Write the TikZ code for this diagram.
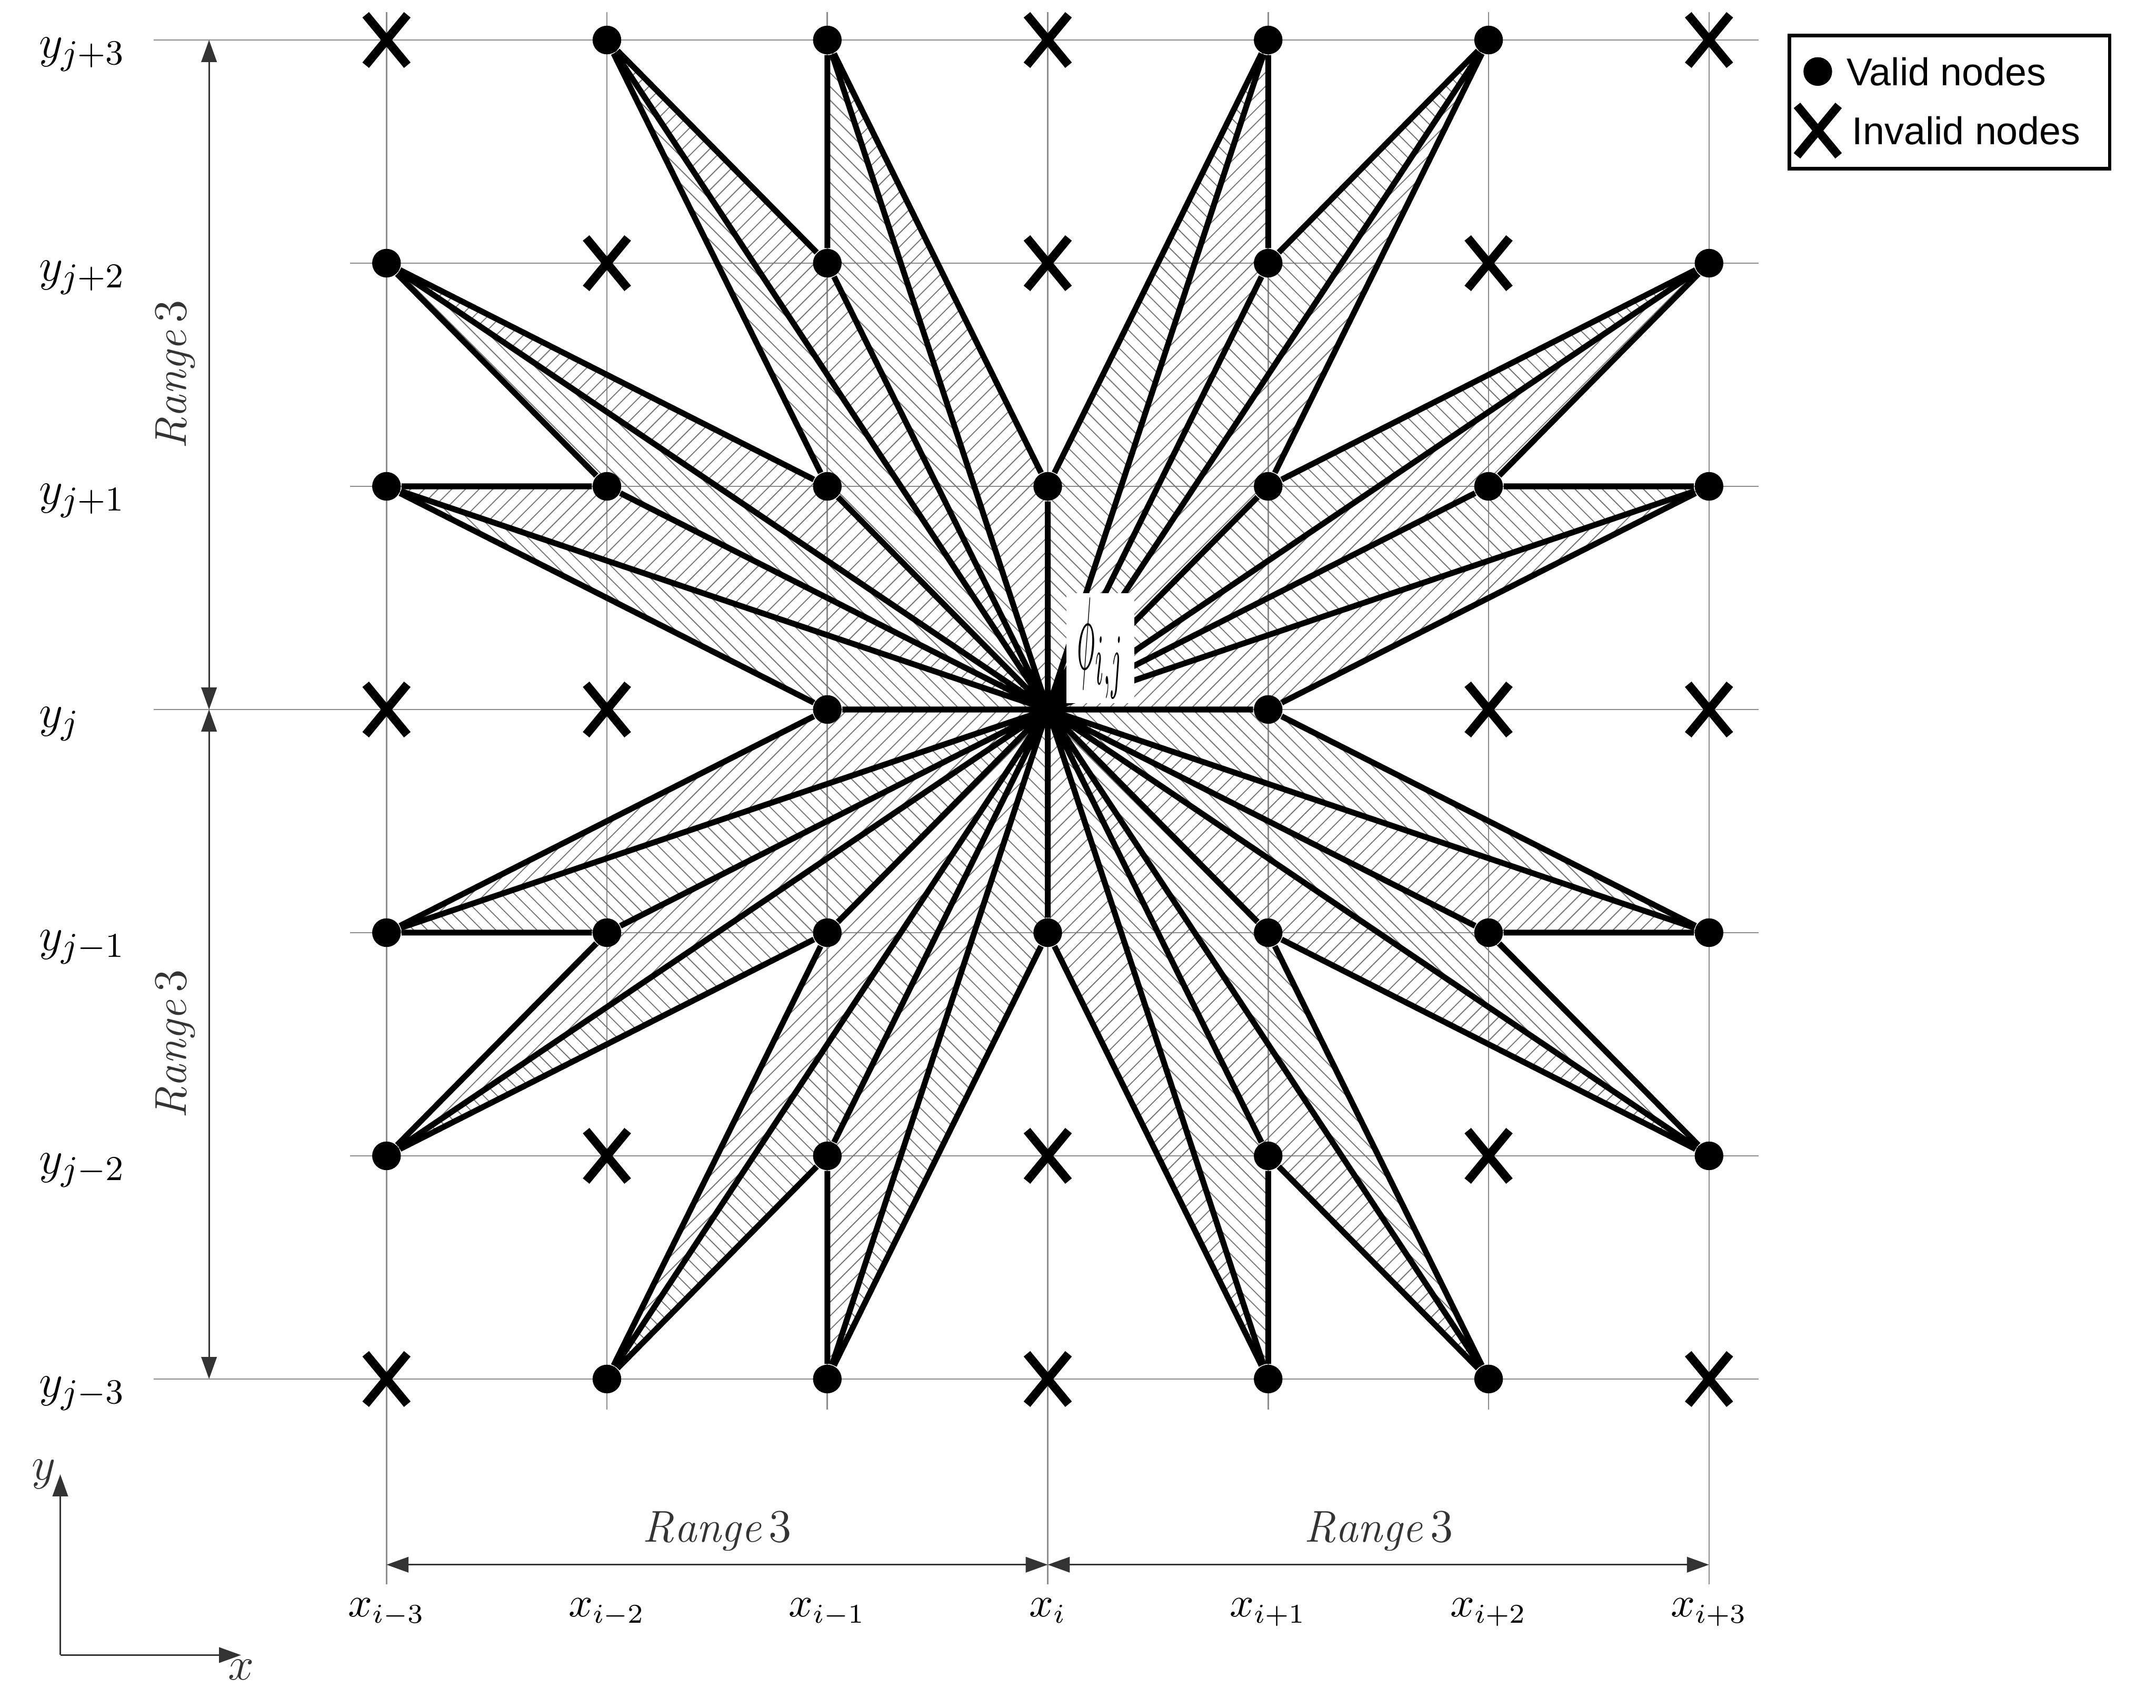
\documentclass[tikz,border=0pt]{standalone}
\usepackage{fontspec}
\newfontfamily\legendfont{Liberation Sans}
\usepackage{graphicx}
\usetikzlibrary{positioning, arrows.meta, calc, backgrounds, patterns.meta, shapes.misc}

\begin{document}
\begin{tikzpicture}[
  valid/.style={circle, fill=black, minimum size=0.26cm, inner sep=0pt},
  invalid/.style={cross out, draw=black, line width=2.2pt,
    minimum width=0.30cm, minimum height=0.38cm, inner sep=0pt},
  gridln/.style={black!45, line width=0.35pt},
  spoke/.style={line width=1.5pt},
  hatchNE/.style={pattern={Lines[angle=45, distance=2.5pt, line width=0.25pt]},
    pattern color=black!55},
  hatchNW/.style={pattern={Lines[angle=-45, distance=2.5pt, line width=0.25pt]},
    pattern color=black!55},
  dimarr/.style={{Triangle[length=2mm, width=1.4mm]}-{Triangle[length=2mm, width=1.4mm]},
    line width=0.4pt, black!80},
  axarr/.style={-{Triangle[length=2mm, width=1.4mm]}, line width=0.4pt, black!80},
  rowlbl/.style={anchor=base west, font=\fontsize{13}{15}\selectfont, inner sep=0pt},
  collbl/.style={anchor=base, font=\fontsize{10.5}{13}\selectfont, inner sep=0pt},
  rangelbl/.style={font=\fontsize{11.5}{13}\selectfont},
  leglbl/.style={font=\legendfont\fontsize{10}{12}\selectfont},
  philbl/.style={fill=white, minimum width=0.62cm, minimum height=1cm, inner sep=0pt},
]

\useasboundingbox (-9.507,-9.058) rectangle (10.056,6.438);

% Column x-positions
\def\xlC{-6}
\def\xlB{-4}
\def\xlA{-2}
\def\xc{0}
\def\xrA{2}
\def\xrB{4}
\def\xrC{6}

% Row y-positions
\def\ytC{6.075}
\def\ytB{4.05}
\def\ytA{2.025}
\def\ym{0}
\def\ybA{-2.025}
\def\ybB{-4.05}
\def\ybC{-6.075}

\coordinate (ctr) at (\xc,\ym);

% ---- Valid nodes ----
\node[valid] (l2t3) at (\xlB,\ytC) {};
\node[valid] (l1t3) at (\xlA,\ytC) {};
\node[valid] (r1t3) at (\xrA,\ytC) {};
\node[valid] (r2t3) at (\xrB,\ytC) {};

\node[valid] (l3t2) at (\xlC,\ytB) {};
\node[valid] (l1t2) at (\xlA,\ytB) {};
\node[valid] (r1t2) at (\xrA,\ytB) {};
\node[valid] (r3t2) at (\xrC,\ytB) {};

\node[valid] (l3t1) at (\xlC,\ytA) {};
\node[valid] (l2t1) at (\xlB,\ytA) {};
\node[valid] (l1t1) at (\xlA,\ytA) {};
\node[valid] (ct1)  at (\xc,\ytA) {};
\node[valid] (r1t1) at (\xrA,\ytA) {};
\node[valid] (r2t1) at (\xrB,\ytA) {};
\node[valid] (r3t1) at (\xrC,\ytA) {};

\node[valid] (l1m) at (\xlA,\ym) {};
\node[valid] (r1m) at (\xrA,\ym) {};

\node[valid] (l3b1) at (\xlC,\ybA) {};
\node[valid] (l2b1) at (\xlB,\ybA) {};
\node[valid] (l1b1) at (\xlA,\ybA) {};
\node[valid] (cb1)  at (\xc,\ybA) {};
\node[valid] (r1b1) at (\xrA,\ybA) {};
\node[valid] (r2b1) at (\xrB,\ybA) {};
\node[valid] (r3b1) at (\xrC,\ybA) {};

\node[valid] (l3b2) at (\xlC,\ybB) {};
\node[valid] (l1b2) at (\xlA,\ybB) {};
\node[valid] (r1b2) at (\xrA,\ybB) {};
\node[valid] (r3b2) at (\xrC,\ybB) {};

\node[valid] (l2b3) at (\xlB,\ybC) {};
\node[valid] (l1b3) at (\xlA,\ybC) {};
\node[valid] (r1b3) at (\xrA,\ybC) {};
\node[valid] (r2b3) at (\xrB,\ybC) {};

% ---- Invalid nodes ----
\node[invalid] (l3t3) at (\xlC,\ytC) {};
\node[invalid] (ct3)  at (\xc,\ytC) {};
\node[invalid] (r3t3) at (\xrC,\ytC) {};
\node[invalid] (l2t2) at (\xlB,\ytB) {};
\node[invalid] (ct2)  at (\xc,\ytB) {};
\node[invalid] (r2t2) at (\xrB,\ytB) {};
\node[invalid] (l3m)  at (\xlC,\ym) {};
\node[invalid] (l2m)  at (\xlB,\ym) {};
\node[invalid] (r2m)  at (\xrB,\ym) {};
\node[invalid] (r3m)  at (\xrC,\ym) {};
\node[invalid] (l2b2) at (\xlB,\ybB) {};
\node[invalid] (cb2)  at (\xc,\ybB) {};
\node[invalid] (r2b2) at (\xrB,\ybB) {};
\node[invalid] (l3b3) at (\xlC,\ybC) {};
\node[invalid] (cb3)  at (\xc,\ybC) {};
\node[invalid] (r3b3) at (\xrC,\ybC) {};

\begin{scope}[on background layer]
\fill[white] (-9.507,-9.058) rectangle (10.056,6.438);

% ---- Grid ----
\draw[gridln] (-8.11,\ytC) -- (6.45,\ytC);
\draw[gridln] (-6.33,\ytB) -- (6.45,\ytB);
\draw[gridln] (-6.33,\ytA) -- (6.45,\ytA);
\draw[gridln] (-8.11,\ym) -- (6.45,\ym);
\draw[gridln] (-6.33,\ybA) -- (6.45,\ybA);
\draw[gridln] (-6.33,\ybB) -- (6.45,\ybB);
\draw[gridln] (-8.11,\ybC) -- (6.45,\ybC);
\draw[gridln] (\xlC,6.33) -- (\xlC,-7.94);
\draw[gridln] (\xlB,6.33) -- (\xlB,-6.35);
\draw[gridln] (\xlA,6.33) -- (\xlA,-6.35);
\draw[gridln] (\xc,6.33) -- (\xc,-7.94);
\draw[gridln] (\xrA,6.33) -- (\xrA,-6.35);
\draw[gridln] (\xrB,6.33) -- (\xrB,-6.35);
\draw[gridln] (\xrC,6.33) -- (\xrC,-7.94);

% ---- Hatched triangles ----
% upper right
\fill[hatchNE] (ctr) -- (r1m.center) -- (r3t1.center) -- cycle
  (ctr) -- (r2t1.center) -- (r3t2.center) -- cycle
  (ctr) -- (r1t1.center) -- (r2t3.center) -- cycle
  (ctr) -- (r1t2.center) -- (r1t3.center) -- cycle;
\fill[hatchNW] (ctr) -- (r3t1.center) -- (r2t1.center) -- cycle
  (ctr) -- (r3t2.center) -- (r1t1.center) -- cycle
  (ctr) -- (r2t3.center) -- (r1t2.center) -- cycle
  (ctr) -- (r1t3.center) -- (ct1.center) -- cycle;
% upper left
\fill[hatchNE] (ctr) -- (ct1.center) -- (l1t3.center) -- cycle
  (ctr) -- (l1t2.center) -- (l2t3.center) -- cycle
  (ctr) -- (l1t1.center) -- (l3t2.center) -- cycle
  (ctr) -- (l2t1.center) -- (l3t1.center) -- cycle;
\fill[hatchNW] (ctr) -- (l1t3.center) -- (l1t2.center) -- cycle
  (ctr) -- (l2t3.center) -- (l1t1.center) -- cycle
  (ctr) -- (l3t2.center) -- (l2t1.center) -- cycle
  (ctr) -- (l3t1.center) -- (l1m.center) -- cycle;
% lower left
\fill[hatchNE] (ctr) -- (l1m.center) -- (l3b1.center) -- cycle
  (ctr) -- (l2b1.center) -- (l3b2.center) -- cycle
  (ctr) -- (l1b1.center) -- (l2b3.center) -- cycle
  (ctr) -- (l1b2.center) -- (l1b3.center) -- cycle;
\fill[hatchNW] (ctr) -- (l3b1.center) -- (l2b1.center) -- cycle
  (ctr) -- (l3b2.center) -- (l1b1.center) -- cycle
  (ctr) -- (l2b3.center) -- (l1b2.center) -- cycle
  (ctr) -- (l1b3.center) -- (cb1.center) -- cycle;
% lower right
\fill[hatchNE] (ctr) -- (cb1.center) -- (r1b3.center) -- cycle
  (ctr) -- (r1b2.center) -- (r2b3.center) -- cycle
  (ctr) -- (r1b1.center) -- (r3b2.center) -- cycle
  (ctr) -- (r2b1.center) -- (r3b1.center) -- cycle;
\fill[hatchNW] (ctr) -- (r1b3.center) -- (r1b2.center) -- cycle
  (ctr) -- (r2b3.center) -- (r1b1.center) -- cycle
  (ctr) -- (r3b2.center) -- (r2b1.center) -- cycle
  (ctr) -- (r3b1.center) -- (r1m.center) -- cycle;
\end{scope}

% ---- Spokes from the centre ----
\draw[spoke] (ctr) -- (r1m) (ctr) -- (r3t1) (ctr) -- (r2t1) (ctr) -- (r3t2)
  (ctr) -- (r1t1) (ctr) -- (r2t3) (ctr) -- (r1t2) (ctr) -- (r1t3);
\draw[spoke] (ctr) -- (ct1) (ctr) -- (l1t3) (ctr) -- (l1t2) (ctr) -- (l2t3)
  (ctr) -- (l1t1) (ctr) -- (l3t2) (ctr) -- (l2t1) (ctr) -- (l3t1);
\draw[spoke] (ctr) -- (l1m) (ctr) -- (l3b1) (ctr) -- (l2b1) (ctr) -- (l3b2)
  (ctr) -- (l1b1) (ctr) -- (l2b3) (ctr) -- (l1b2) (ctr) -- (l1b3);
\draw[spoke] (ctr) -- (cb1) (ctr) -- (r1b3) (ctr) -- (r1b2) (ctr) -- (r2b3)
  (ctr) -- (r1b1) (ctr) -- (r3b2) (ctr) -- (r2b1) (ctr) -- (r3b1);

% ---- Outer edges ----
\draw[spoke] (r1t3) -- (ct1) (r1t3) -- (r1t2) (r2t3) -- (r1t2) (r2t3) -- (r1t1)
  (r3t2) -- (r1t1) (r3t2) -- (r2t1) (r3t1) -- (r2t1) (r3t1) -- (r1m);
\draw[spoke] (l1t3) -- (ct1) (l1t3) -- (l1t2) (l2t3) -- (l1t2) (l2t3) -- (l1t1)
  (l3t2) -- (l1t1) (l3t2) -- (l2t1) (l3t1) -- (l2t1) (l3t1) -- (l1m);
\draw[spoke] (l1b3) -- (cb1) (l1b3) -- (l1b2) (l2b3) -- (l1b2) (l2b3) -- (l1b1)
  (l3b2) -- (l1b1) (l3b2) -- (l2b1) (l3b1) -- (l2b1) (l3b1) -- (l1m);
\draw[spoke] (r1b3) -- (cb1) (r1b3) -- (r1b2) (r2b3) -- (r1b2) (r2b3) -- (r1b1)
  (r3b2) -- (r1b1) (r3b2) -- (r2b1) (r3b1) -- (r2b1) (r3b1) -- (r1m);

% ---- Centre label ----
\node[philbl, anchor=south west] (philabel) at ($(ctr)+(0.16,0.05)$)
  {\resizebox*{0.42cm}{0.92cm}{$\phi_{i,j}$}};

% ---- Row labels ----
\node[rowlbl] (lyt3) at (-9.16,\ytC-0.16) {$y_{j+3}$};
\node[rowlbl] (lyt2) at (-9.16,\ytB-0.16) {$y_{j+2}$};
\node[rowlbl] (lyt1) at (-9.16,\ytA-0.16) {$y_{j+1}$};
\node[rowlbl] (lym)  at (-9.16,\ym-0.16) {$y_{j}$};
\node[rowlbl] (lyb1) at (-9.16,\ybA-0.16) {$y_{j-1}$};
\node[rowlbl] (lyb2) at (-9.16,\ybB-0.16) {$y_{j-2}$};
\node[rowlbl] (lyb3) at (-9.16,\ybC-0.16) {$y_{j-3}$};

% ---- Column labels ----
\node[collbl] (lxl3) at (\xlC,-8.23) {$x_{i-3}$};
\node[collbl] (lxl2) at (\xlB,-8.23) {$x_{i-2}$};
\node[collbl] (lxl1) at (\xlA,-8.23) {$x_{i-1}$};
\node[collbl] (lxc)  at (\xc,-8.23) {$x_{i}$};
\node[collbl] (lxr1) at (\xrA,-8.23) {$x_{i+1}$};
\node[collbl] (lxr2) at (\xrB,-8.23) {$x_{i+2}$};
\node[collbl] (lxr3) at (\xrC,-8.23) {$x_{i+3}$};

% ---- Range arrows ----
\coordinate (dimT) at (-7.61,\ytC);
\coordinate (dimM) at (-7.61,\ym);
\coordinate (dimB) at (-7.61,\ybC);
\draw[dimarr] (dimT) -- node[rangelbl, rotate=90, anchor=south] {$\mathit{Range}\,3$} (dimM);
\draw[dimarr] (dimM) -- node[rangelbl, rotate=90, anchor=south] {$\mathit{Range}\,3$} (dimB);

\coordinate (dimL) at (\xlC,-7.76);
\coordinate (dimC) at (\xc,-7.76);
\coordinate (dimR) at (\xrC,-7.76);
\draw[dimarr] (dimL) -- node[rangelbl, above] {$\mathit{Range}\,3$} (dimC);
\draw[dimarr] (dimC) -- node[rangelbl, above] {$\mathit{Range}\,3$} (dimR);

% ---- Axes ----
\coordinate (axo) at (-8.96,-8.58);
\coordinate (axy) at (-8.96,-6.94);
\coordinate (axx) at (-7.32,-8.58);
\draw[axarr] (axo) -- (axy) node[left, inner sep=1pt, font=\fontsize{13}{15}\selectfont] {$y$};
\draw[axarr] (axo) -- (axx) node[below, inner sep=1pt, font=\fontsize{13}{15}\selectfont] {$x$};

% ---- Legend ----
\node[draw, line width=0.9pt, minimum width=2.907cm, minimum height=1.21cm,
  inner sep=0pt, anchor=south west] (legend) at (6.713,4.891) {};
\node[valid] (lgvalid) at (6.987,5.789) {};
\node[leglbl, right=0pt of lgvalid] (lgvalidtxt) {Valid nodes};
\node[invalid] (lginvalid) at (6.987,5.253) {};
\node[leglbl, right=0pt of lginvalid] (lginvalidtxt) {Invalid nodes};

\end{tikzpicture}
\end{document}
